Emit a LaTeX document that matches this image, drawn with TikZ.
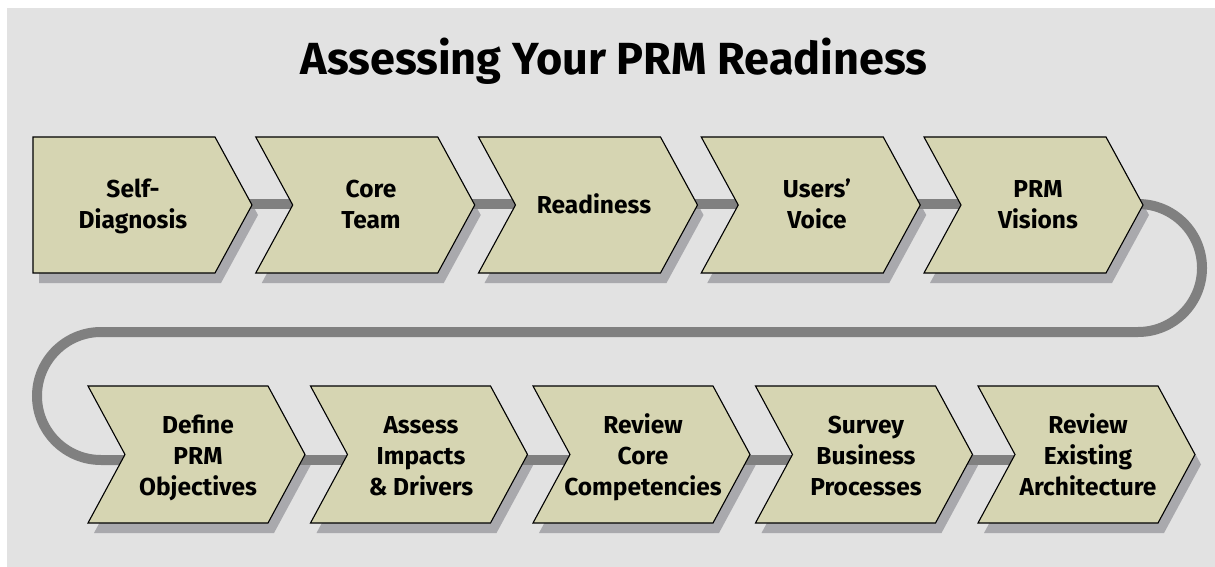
\documentclass[tikz,border=0pt]{standalone}
\usepackage{fontspec}
\setmainfont{Fira Sans}
\definecolor{bgpanel}{HTML}{E2E2E2}
\definecolor{stepfill}{HTML}{D6D5B2}
\definecolor{stepshadow}{HTML}{A9A9AD}
\definecolor{linkgray}{HTML}{808080}

% chevron outline: #1 left x, #2 centre y, #3 body width, #4 half height, #5 notch depth
\newcommand\chevpath[5]{(#1,#2-#4) -- (#1+#3,#2-#4) -- (#1+#3+37,#2) -- (#1+#3,#2+#4)
  -- (#1,#2+#4) -- (#1+#5,#2) -- cycle}

\begin{document}
\begin{tikzpicture}[x=1pt,y=-1pt,
  stepbox/.style={fill=stepfill,draw=black,line width=1.1pt,line join=miter},
  shadowbox/.style={fill=stepshadow},
  link/.style={draw=linkgray,line width=10pt},
  steplabel/.style={font=\bfseries\fontsize{24.5}{31}\selectfont,align=center,inner sep=0pt,anchor=base},
  title/.style={font=\bfseries\fontsize{45}{50}\selectfont,inner sep=0pt,anchor=base}]
\useasboundingbox (0,0) rectangle (1215,567);
\fill[bgpanel] (7,8) rectangle (1215,567);

\node[title] (head) at (614,75) {Assessing Your PRM Readiness};

% geometry of each step: index/left x/centre y/link y/body width/half height/notch
\def\steps{1/33/205/204/182/68/0, 2/255.75/205/204/182/68/37, 3/478.5/205/204/182/68/37,
  4/701.25/205/204/182/68/37, 5/924/205/204/182/68/37,
  6/88/454.5/460/180/68.5/37, 7/310.5/454.5/460/180/68.5/37, 8/533/454.5/460/180/68.5/37,
  9/755.5/454.5/460/180/68.5/37, 10/978/454.5/460/180/68.5/37}

% shadows and link end points
\foreach \i/\l/\c/\y/\w/\h/\n in \steps {
  \fill[shadowbox,shift={(6,10)}] \chevpath{\l}{\c}{\w}{\h}{\n};
  \coordinate (t\i) at (\l+\w+30,\y);
  \coordinate (n\i) at (\l+\n+5,\y);
}

% route turning points
\coordinate (turnA) at (1138,204);
\coordinate (turnB) at (101,332);

% links between consecutive steps
\foreach \a/\b in {1/2,2/3,3/4,4/5,6/7,7/8,8/9,9/10}
  \draw[link] (t\a) -- (n\b);
\draw[link] (t5) -- (turnA) arc[start angle=-90,end angle=90,radius=64]
  -- (turnB) arc[start angle=-90,end angle=-270,radius=64] -- (n6);

% step boxes
\foreach \i/\l/\c/\y/\w/\h/\n in \steps
  \draw[stepbox] \chevpath{\l}{\c}{\w}{\h}{\n};

% labels: anchored on the last baseline so each block is centred on its box
\node[steplabel] (s1) at (133,228.5) {Self-\\Diagnosis};
\node[steplabel] (s2) at (371,228.5) {Core\\Team};
\node[steplabel] (s3) at (594,213) {Readiness};
\node[steplabel] (s4) at (817,228.5) {Users’\\Voice};
\node[steplabel] (s5) at (1038,228.5) {PRM\\Visions};
\node[steplabel] (s6) at (198,495) {Define\\PRM\\Objectives};
\node[steplabel] (s7) at (421,495) {Assess\\Impacts\\\& Drivers};
\node[steplabel] (s8) at (643,495) {Review\\Core\\Competencies};
\node[steplabel] (s9) at (866,495) {Survey\\Business\\Processes};
\node[steplabel] (s10) at (1088,495) {Review\\Existing\\Architecture};
\end{tikzpicture}
\end{document}
